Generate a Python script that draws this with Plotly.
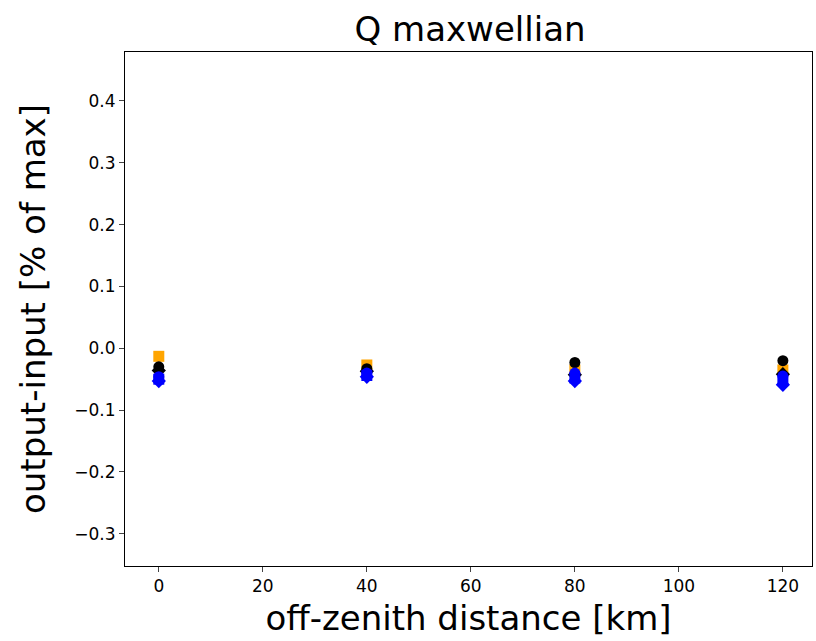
import plotly.graph_objects as go

x_km = [0, 40, 80, 120]
orange_sq = [-0.013, -0.027, -0.035, -0.035]
black_circ = [-0.030, -0.033, -0.023, -0.020]
black_dia = [-0.036, -0.037, -0.043, -0.042]
blue_circ = [-0.046, -0.040, -0.040, -0.045]
blue_sq = [-0.050, -0.044, -0.048, -0.052]
blue_dia = [-0.053, -0.046, -0.053, -0.059]

y_ticks = [-0.3, -0.2, -0.1, 0.0, 0.1, 0.2, 0.3, 0.4]
y_tick_text = ["\u22120.3", "\u22120.2", "\u22120.1", "0.0", "0.1", "0.2", "0.3", "0.4"]
x_ticks = [0, 20, 40, 60, 80, 100, 120]

fig = go.Figure()
series = [
    (orange_sq, "orange", "square", 11),
    (black_dia, "black", "diamond", 11),
    (black_circ, "black", "circle", 11),
    (blue_circ, "blue", "circle", 11),
    (blue_sq, "blue", "square", 11),
    (blue_dia, "blue", "diamond", 11),
]
for ys, col, sym, sz in series:
    fig.add_trace(go.Scatter(x=x_km, y=ys, mode="markers",
                             marker=dict(color=col, symbol=sym, size=sz, line=dict(width=0)),
                             showlegend=False))

fig.update_layout(
    width=816, height=641,
    margin=dict(l=125, r=4, t=52, b=75),
    paper_bgcolor="white", plot_bgcolor="white",
    font=dict(family="DejaVu Sans", color="black"),
    title=dict(text="Q maxwellian", x=0.576, xanchor="center", y=0.955, yanchor="middle",
               font=dict(size=34)),
)
fig.update_xaxes(range=[-6.5, 125.6], tickvals=x_ticks, ticks="outside", ticklen=5,
                 tickfont=dict(size=17), showgrid=False, zeroline=False,
                 showline=True, linecolor="black", linewidth=1, mirror=True,
                 title=dict(text="off-zenith distance [km]", font=dict(size=34), standoff=10))
fig.update_yaxes(range=[-0.352, 0.479], tickvals=y_ticks, ticktext=y_tick_text,
                 ticks="outside", ticklen=5, tickfont=dict(size=17), showgrid=False,
                 zeroline=False, showline=True, linecolor="black", linewidth=1, mirror=True,
                 title=dict(text="output-input [% of max]", font=dict(size=34), standoff=18))

fig.write_html("out.html")
